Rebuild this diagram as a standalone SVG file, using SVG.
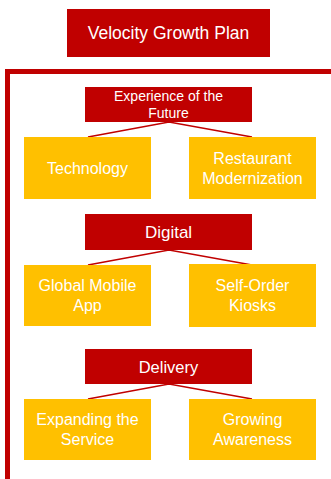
<svg xmlns="http://www.w3.org/2000/svg" width="331" height="479" viewBox="0 0 331 479">
  <style>
    .head { fill: #C00000; }
    .leaf { fill: #FFC000; }
    .frame { fill: none; stroke: #C00000; stroke-width: 5; }
    .link { stroke: #C00000; stroke-width: 1.6; fill: none; }
    text { font-family: "Liberation Sans", Arial, sans-serif; fill: #FFFFFF; text-anchor: middle; }
    .t-title { font-size: 17.5px; }
    .t-head { font-size: 14px; }
    .t-leaf { font-size: 16px; }
  </style>
  <rect width="331" height="479" fill="#FFFFFF"/>

  <!-- Title -->
  <g id="title">
    <rect class="head" x="67" y="9" width="203" height="48"/>
    <text class="t-title" x="168.5" y="39">Velocity Growth Plan</text>
  </g>

  <!-- Outer bracket frame -->
  <path class="frame" d="M7.5,479 V71.5 H331"/>

  <!-- Connectors -->
  <g id="connectors">
    <path class="link" d="M88,137 L169,122 L252,137"/>
    <path class="link" d="M88,265 L169,250 L252,265"/>
    <path class="link" d="M88,399 L169,384 L252,399"/>
  </g>

  <!-- Section 1 -->
  <g id="experience">
    <rect class="head" x="85" y="87" width="167" height="35"/>
    <text class="t-head" x="168.5" y="101">Experience of the</text>
    <text class="t-head" x="168.5" y="118">Future</text>
  </g>
  <g id="technology">
    <rect class="leaf" x="24" y="137" width="127" height="62"/>
    <text class="t-leaf" x="87.5" y="173.5">Technology</text>
  </g>
  <g id="restaurant-modernization">
    <rect class="leaf" x="189" y="137" width="127" height="62"/>
    <text class="t-leaf" x="252.5" y="163.5">Restaurant</text>
    <text class="t-leaf" x="252.5" y="183.5">Modernization</text>
  </g>

  <!-- Section 2 -->
  <g id="digital">
    <rect class="head" x="85" y="214" width="167" height="36"/>
    <text x="168.5" y="238" style="font-size:17px">Digital</text>
  </g>
  <g id="global-mobile-app">
    <rect class="leaf" x="24" y="265" width="127" height="61"/>
    <text class="t-leaf" x="87.5" y="291">Global Mobile</text>
    <text class="t-leaf" x="87.5" y="311">App</text>
  </g>
  <g id="self-order-kiosks">
    <rect class="leaf" x="189" y="264" width="127" height="63"/>
    <text class="t-leaf" x="252.5" y="291">Self-Order</text>
    <text class="t-leaf" x="252.5" y="311">Kiosks</text>
  </g>

  <!-- Section 3 -->
  <g id="delivery">
    <rect class="head" x="85" y="349" width="167" height="35"/>
    <text x="168.5" y="372.5" style="font-size:16.5px">Delivery</text>
  </g>
  <g id="expanding-the-service">
    <rect class="leaf" x="24" y="399" width="127" height="61"/>
    <text class="t-leaf" x="87.5" y="425">Expanding the</text>
    <text class="t-leaf" x="87.5" y="445">Service</text>
  </g>
  <g id="growing-awareness">
    <rect class="leaf" x="189" y="399" width="127" height="61"/>
    <text class="t-leaf" x="252.5" y="425">Growing</text>
    <text class="t-leaf" x="252.5" y="445">Awareness</text>
  </g>
</svg>
